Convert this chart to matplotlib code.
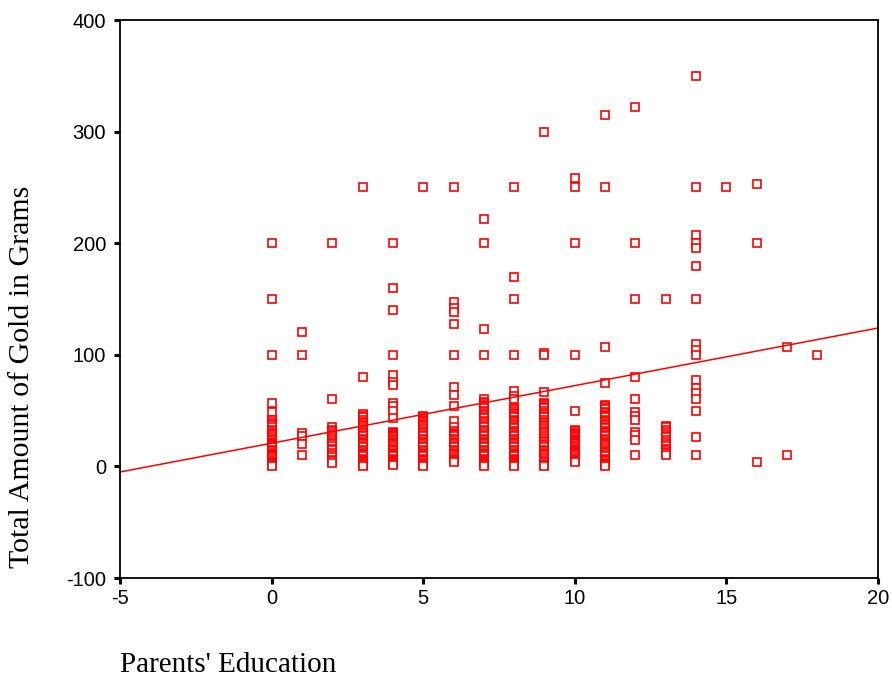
import matplotlib.pyplot as plt

plt.rcParams['axes.unicode_minus'] = False

# values per parents' education level
gold = {
    0: [200, 150, 100, 57, 49, 42, 40, 38, 37, 35, 33, 32, 30, 29, 28, 26, 25, 24, 22, 21, 20, 19,
        18, 17, 15, 14, 12, 11, 10, 9, 8, 7, 5, 4, 3, 2, 1, 0],
    1: [120, 100, 30, 27, 20, 10],
    2: [200, 60, 35, 33, 32, 30, 28, 26, 25, 23, 21, 20, 18, 16, 15, 12, 10, 8, 6, 5, 3],
    3: [250, 80, 47, 45, 44, 42, 40, 39, 37, 36, 34, 33, 31, 30, 28, 27, 25, 24, 22, 21, 20, 18,
        17, 15, 14, 12, 11, 10, 9, 7, 6, 5, 4, 3, 2, 1, 0],
    4: [200, 160, 140, 100, 82, 76, 73, 57, 54, 50, 43, 31, 30, 29, 28, 27, 26, 25, 24, 22, 21,
        20, 19, 17, 16, 15, 14, 12, 11, 10, 9, 7, 6, 5, 4, 3, 2, 1],
    5: [250, 45, 44, 42, 41, 40, 38, 37, 36, 34, 33, 31, 30, 28, 27, 25, 24, 22, 21, 20, 18, 17,
        15, 14, 12, 11, 10, 9, 7, 6, 5, 3, 2, 1, 0],
    6: [250, 147, 142, 138, 128, 100, 71, 64, 54, 41, 35, 32, 30, 29, 28, 27, 25, 24, 22, 21, 20,
        18, 17, 15, 14, 12, 11, 10, 8, 7, 6, 5, 4],
    7: [222, 200, 123, 100, 60, 58, 57, 55, 54, 52, 50, 49, 47, 46, 44, 43, 41, 40, 38, 36, 35,
        33, 32, 30, 28, 27, 25, 24, 22, 21, 20, 18, 17, 15, 14, 12, 11, 10, 9, 7, 6, 5, 4, 3, 2,
        1, 0],
    8: [250, 170, 150, 100, 68, 63, 60, 52, 51, 50, 48, 47, 45, 44, 42, 41, 40, 38, 37, 35, 34,
        32, 31, 30, 28, 27, 25, 24, 22, 21, 20, 18, 17, 15, 14, 12, 11, 10, 9, 7, 6, 5, 4, 3, 2,
        1, 0],
    9: [300, 102, 100, 67, 57, 56, 55, 53, 52, 50, 48, 47, 45, 44, 42, 40, 39, 37, 36, 34, 33,
        31, 30, 28, 26, 25, 23, 22, 20, 19, 17, 15, 14, 12, 11, 10, 8, 7, 5, 4, 2, 1, 0],
    10: [258, 250, 200, 100, 50, 33, 32, 30, 29, 28, 27, 26, 25, 24, 23, 22, 21, 20, 18, 17, 16,
         15, 14, 13, 12, 11, 10, 8, 7, 6, 5, 4],
    11: [315, 250, 107, 75, 55, 54, 52, 51, 49, 48, 46, 45, 44, 42, 41, 40, 38, 37, 35, 34, 32,
         31, 30, 28, 27, 25, 24, 22, 21, 20, 19, 17, 16, 14, 13, 12, 10, 9, 7, 6, 5, 3, 2, 1, 0],
    12: [322, 200, 150, 80, 60, 49, 45, 42, 31, 28, 24, 10],
    13: [150, 36, 35, 33, 31, 29, 27, 26, 24, 22, 20, 18, 16, 15, 13, 12, 10],
    14: [350, 250, 207, 200, 196, 180, 150, 110, 104, 100, 77, 70, 66, 60, 50, 26, 10],
    15: [250],
    16: [253, 200, 4],
    17: [107, 10],
    18: [100],
}

# fitted line endpoints
fit_x = [-5, 20]
fit_y = [-5, 124]

xs = []
ys = []
for edu, vals in gold.items():
    for v in vals:
        xs.append(edu)
        ys.append(v)

fig = plt.figure(figsize=(8.92, 6.85), dpi=100)
ax = fig.add_axes([0.1345, 0.1562, 0.8498, 0.8146])

ax.plot(xs, ys, linestyle='none', marker='s', markersize=6.3,
        markerfacecolor='white', markeredgecolor='#FF0000', markeredgewidth=1.2)
ax.plot(fit_x, fit_y, color='#FF0000', linewidth=1.1)

ax.set_xlim(-5, 20)
ax.set_ylim(-100, 400)
ax.set_xticks([-5, 0, 5, 10, 15, 20])
ax.set_yticks([-100, 0, 100, 200, 300, 400])

for s in ax.spines.values():
    s.set_linewidth(1.3)
    s.set_color('black')

ax.tick_params(axis='both', direction='out', length=4, width=2.2,
               labelsize=14.5, colors='black')
ax.tick_params(axis='x', pad=4)
ax.tick_params(axis='y', pad=6)
for lab in ax.get_xticklabels() + ax.get_yticklabels():
    lab.set_fontfamily('Liberation Sans')

fig.text(0.1345, 0.029, "Parents' Education", family='Liberation Serif',
         fontsize=21, ha='left', va='center')
fig.text(0.0247, 0.45, "Total Amount of Gold in Grams", family='Liberation Serif',
         fontsize=21.5, rotation=90, ha='center', va='center')

fig.savefig('out.png', dpi=100)
